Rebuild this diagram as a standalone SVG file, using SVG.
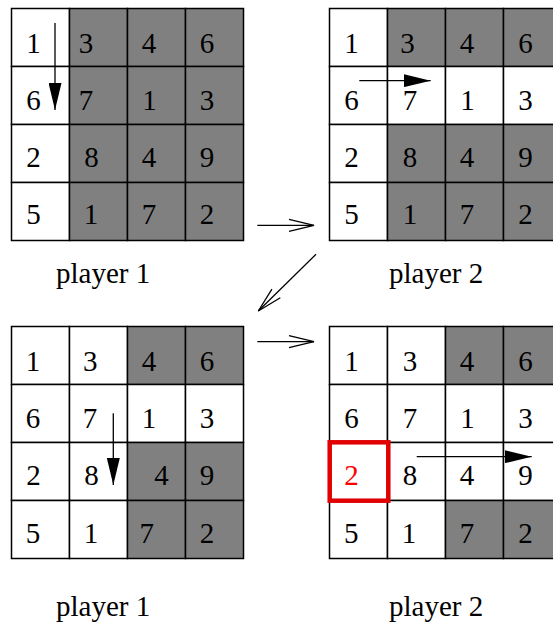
<svg xmlns="http://www.w3.org/2000/svg" width="553" height="625" viewBox="0 0 553 625">
<style>
.w{fill:#ffffff;stroke:#000;stroke-width:1.5}
.g{fill:#808080;stroke:#000;stroke-width:1.5}
text{font-family:"Liberation Serif","Times New Roman",serif;font-size:29px;fill:#000}
.d{text-anchor:middle}
.arr{stroke:#000;stroke-width:1.3;fill:none}
</style>
<defs>
<marker id="fillhead" markerWidth="27" markerHeight="13" refX="27" refY="6.5" orient="auto" markerUnits="userSpaceOnUse">
<path d="M0,0 L27,6.5 L0,13 z" fill="#000"/>
</marker>
<marker id="openhead" markerWidth="27" markerHeight="14" refX="25" refY="7" orient="auto" markerUnits="userSpaceOnUse" overflow="visible">
<path d="M0,1 L25,7 L0,13" fill="none" stroke="#000" stroke-width="1.3"/>
</marker>
</defs>
<rect width="553" height="625" fill="#fff"/>

<g id="grid1" transform="translate(11.5,8.5)">
<rect class="w" x="0" y="0" width="58" height="58"/><rect class="g" x="58" y="0" width="58" height="58"/><rect class="g" x="116" y="0" width="58" height="58"/><rect class="g" x="174" y="0" width="58" height="58"/>
<rect class="w" x="0" y="58" width="58" height="58"/><rect class="g" x="58" y="58" width="58" height="58"/><rect class="g" x="116" y="58" width="58" height="58"/><rect class="g" x="174" y="58" width="58" height="58"/>
<rect class="w" x="0" y="116" width="58" height="58"/><rect class="g" x="58" y="116" width="58" height="58"/><rect class="g" x="116" y="116" width="58" height="58"/><rect class="g" x="174" y="116" width="58" height="58"/>
<rect class="w" x="0" y="174" width="58" height="58"/><rect class="g" x="58" y="174" width="58" height="58"/><rect class="g" x="116" y="174" width="58" height="58"/><rect class="g" x="174" y="174" width="58" height="58"/>
<text class="d" x="22" y="44.5">1</text><text class="d" x="74.5" y="44.5">3</text><text class="d" x="137.5" y="44.5">4</text><text class="d" x="195.5" y="44.5">6</text>
<text class="d" x="22" y="101.5">6</text><text class="d" x="74.5" y="101.5">7</text><text class="d" x="138" y="101.5">1</text><text class="d" x="195.5" y="101.5">3</text>
<text class="d" x="22" y="158.5">2</text><text class="d" x="80" y="158.5">8</text><text class="d" x="137.5" y="158.5">4</text><text class="d" x="195.5" y="158.5">9</text>
<text class="d" x="22" y="215.5">5</text><text class="d" x="79.5" y="215.5">1</text><text class="d" x="137.5" y="215.5">7</text><text class="d" x="195.5" y="215.5">2</text>
<line class="arr" x1="43.5" y1="14.5" x2="43.5" y2="101.5" marker-end="url(#fillhead)"/>
</g>

<g id="grid2" transform="translate(329.5,8.5)">
<rect class="w" x="0" y="0" width="58" height="58"/><rect class="g" x="58" y="0" width="58" height="58"/><rect class="g" x="116" y="0" width="58" height="58"/><rect class="g" x="174" y="0" width="58" height="58"/>
<rect class="w" x="0" y="58" width="58" height="58"/><rect class="w" x="58" y="58" width="58" height="58"/><rect class="w" x="116" y="58" width="58" height="58"/><rect class="w" x="174" y="58" width="58" height="58"/>
<rect class="w" x="0" y="116" width="58" height="58"/><rect class="g" x="58" y="116" width="58" height="58"/><rect class="g" x="116" y="116" width="58" height="58"/><rect class="g" x="174" y="116" width="58" height="58"/>
<rect class="w" x="0" y="174" width="58" height="58"/><rect class="g" x="58" y="174" width="58" height="58"/><rect class="g" x="116" y="174" width="58" height="58"/><rect class="g" x="174" y="174" width="58" height="58"/>
<text class="d" x="22" y="44.5">1</text><text class="d" x="78" y="44.5">3</text><text class="d" x="137.5" y="44.5">4</text><text class="d" x="196" y="44.5">6</text>
<text class="d" x="22" y="101.5">6</text><text class="d" x="80.5" y="101.5">7</text><text class="d" x="138" y="101.5">1</text><text class="d" x="196" y="101.5">3</text>
<text class="d" x="22" y="158.5">2</text><text class="d" x="80.5" y="158.5">8</text><text class="d" x="137.5" y="158.5">4</text><text class="d" x="196" y="158.5">9</text>
<text class="d" x="22" y="215.5">5</text><text class="d" x="80.5" y="215.5">1</text><text class="d" x="137.5" y="215.5">7</text><text class="d" x="196" y="215.5">2</text>
<line class="arr" x1="29.8" y1="72.2" x2="101.2" y2="72.2" marker-end="url(#fillhead)"/>
</g>

<g id="grid3" transform="translate(11.5,326.5)">
<rect class="w" x="0" y="0" width="58" height="58"/><rect class="w" x="58" y="0" width="58" height="58"/><rect class="g" x="116" y="0" width="58" height="58"/><rect class="g" x="174" y="0" width="58" height="58"/>
<rect class="w" x="0" y="58" width="58" height="58"/><rect class="w" x="58" y="58" width="58" height="58"/><rect class="w" x="116" y="58" width="58" height="58"/><rect class="w" x="174" y="58" width="58" height="58"/>
<rect class="w" x="0" y="116" width="58" height="58"/><rect class="w" x="58" y="116" width="58" height="58"/><rect class="g" x="116" y="116" width="58" height="58"/><rect class="g" x="174" y="116" width="58" height="58"/>
<rect class="w" x="0" y="174" width="58" height="58"/><rect class="w" x="58" y="174" width="58" height="58"/><rect class="g" x="116" y="174" width="58" height="58"/><rect class="g" x="174" y="174" width="58" height="58"/>
<text class="d" x="21.5" y="44">1</text><text class="d" x="78.8" y="44">3</text><text class="d" x="137.5" y="44">4</text><text class="d" x="195.5" y="44">6</text>
<text class="d" x="21.5" y="101.5">6</text><text class="d" x="78.5" y="101.5">7</text><text class="d" x="137.5" y="101.5">1</text><text class="d" x="195.5" y="101.5">3</text>
<text class="d" x="22" y="158.5">2</text><text class="d" x="80" y="158.5">8</text><text class="d" x="150" y="158.5">4</text><text class="d" x="195.5" y="158.5">9</text>
<text class="d" x="21.5" y="216">5</text><text class="d" x="79.5" y="216">1</text><text class="d" x="135.2" y="216">7</text><text class="d" x="195.5" y="216">2</text>
<line class="arr" x1="101.8" y1="86.8" x2="101.8" y2="158.5" marker-end="url(#fillhead)"/>
</g>

<g id="grid4" transform="translate(329.5,326.5)">
<rect class="w" x="0" y="0" width="58" height="58"/><rect class="w" x="58" y="0" width="58" height="58"/><rect class="g" x="116" y="0" width="58" height="58"/><rect class="g" x="174" y="0" width="58" height="58"/>
<rect class="w" x="0" y="58" width="58" height="58"/><rect class="w" x="58" y="58" width="58" height="58"/><rect class="w" x="116" y="58" width="58" height="58"/><rect class="w" x="174" y="58" width="58" height="58"/>
<rect class="w" x="0" y="116" width="58" height="58"/><rect class="w" x="58" y="116" width="58" height="58"/><rect class="w" x="116" y="116" width="58" height="58"/><rect class="w" x="174" y="116" width="58" height="58"/>
<rect class="w" x="0" y="174" width="58" height="58"/><rect class="w" x="58" y="174" width="58" height="58"/><rect class="g" x="116" y="174" width="58" height="58"/><rect class="g" x="174" y="174" width="58" height="58"/>
<text class="d" x="22" y="44">1</text><text class="d" x="80.5" y="44">3</text><text class="d" x="137.5" y="44">4</text><text class="d" x="196" y="44">6</text>
<text class="d" x="22" y="101.5">6</text><text class="d" x="80.5" y="101.5">7</text><text class="d" x="138" y="101.5">1</text><text class="d" x="196" y="101.5">3</text>
<text class="d" x="22" y="158.5" fill="#ff0000" style="fill:#ff0000">2</text><text class="d" x="80.5" y="158.5">8</text><text class="d" x="137.5" y="158.5">4</text><text class="d" x="196" y="158.5">9</text>
<text class="d" x="21.7" y="216">5</text><text class="d" x="79.5" y="216">1</text><text class="d" x="137.5" y="216">7</text><text class="d" x="196" y="216">2</text>
<rect x="0.2" y="115.8" width="58.6" height="58.4" fill="none" stroke="#e00000" stroke-width="4.5"/>
<line class="arr" x1="87.2" y1="130.2" x2="202.2" y2="130.2" marker-end="url(#fillhead)"/>
</g>

<g id="labels">
<text x="56" y="283">player 1</text>
<text x="389" y="283">player 2</text>
<text x="56" y="616">player 1</text>
<text x="389" y="616">player 2</text>
</g>

<g id="connectors">
<line class="arr" x1="257.3" y1="225.3" x2="314" y2="225.3" marker-end="url(#openhead)"/>
<line class="arr" x1="316" y1="254.3" x2="258.3" y2="311" marker-end="url(#openhead)"/>
<line class="arr" x1="257.3" y1="341.7" x2="314" y2="341.7" marker-end="url(#openhead)"/>
</g>
</svg>
